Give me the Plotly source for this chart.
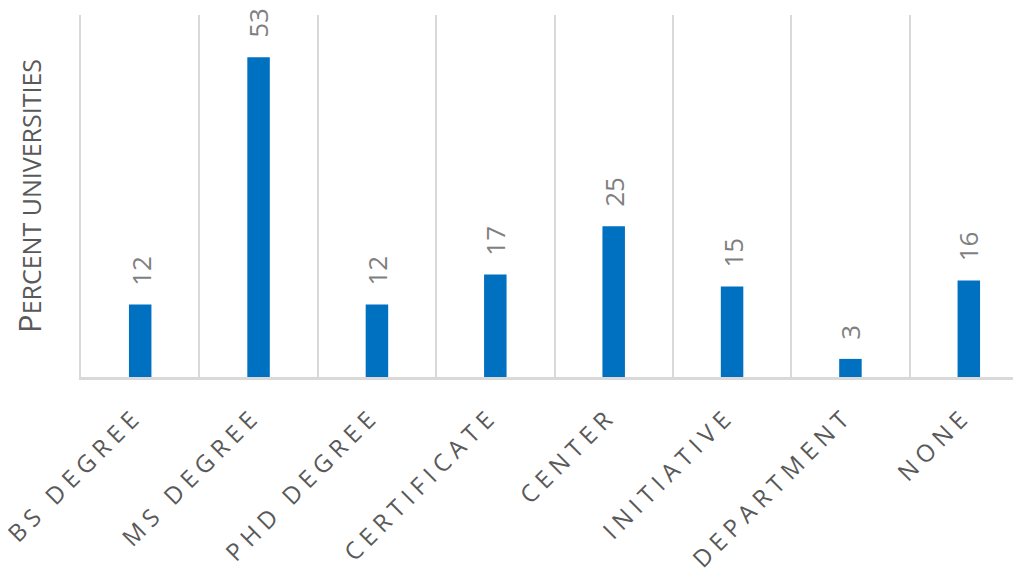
import plotly.graph_objects as go

categories = ["BS DEGREE", "MS DEGREE", "PHD DEGREE", "CERTIFICATE",
              "CENTER", "INITIATIVE", "DEPARTMENT", "NONE"]
values = [12, 53, 12, 17, 25, 15, 3, 16]
y_title_first = "P"
y_title_rest = "ERCENT UNIVERSITIES"

LS = "\u2005"   # letter spacing (1/4 em)
WS = "\u2002\u2005"   # word spacing (3/4 em)
TAIL = "\u2002"  # trailing pad to nudge labels along their baseline


def spaced(s):
    words = s.split(" ")
    return WS.join(LS.join(list(w)) for w in words) + TAIL


tick_text = [spaced(c) for c in categories]

fig = go.Figure()
fig.add_trace(go.Bar(
    x=categories, y=values,
    marker=dict(color="#0070c0", line=dict(width=0)),
    width=0.19,
    hoverinfo="x+y",
))

for c, v in zip(categories, values):
    fig.add_annotation(
        x=c, y=v, text=str(v), showarrow=False,
        textangle=-90, yanchor="bottom", xanchor="center",
        yshift=17,
        font=dict(family="Open Sans", size=26, color="#7f7f7f"),
    )

fig.update_layout(
    width=1021, height=580,
    margin=dict(l=73, r=1, t=7, b=211),
    paper_bgcolor="white", plot_bgcolor="white",
    showlegend=False,
    font=dict(family="Open Sans", color="#595959"),
    xaxis=dict(
        type="category",
        range=[-0.5, 7.5],
        tickmode="array", tickvals=categories, ticktext=tick_text,
        tickangle=-45,
        tickfont=dict(family="Open Sans", size=24, color="#595959"),
        showgrid=True, gridcolor="#d9d9d9", gridwidth=2,
        tickson="boundaries",
        ticks="", ticklabelstandoff=8,
        showline=True, linecolor="#d9d9d9", linewidth=3,
        zeroline=False,
        automargin=False,
    ),
    yaxis=dict(
        range=[0, 60],
        showgrid=False, zeroline=False, showticklabels=False,
        ticks="", showline=True, linecolor="#d9d9d9", linewidth=2,
        title=dict(
            text=(y_title_first + "<span style='font-size:25px'>"
                  + y_title_rest + "</span>"),
            font=dict(family="Open Sans", size=31, color="#595959"),
            standoff=30,
        ),
        automargin=False,
    ),
)

fig.write_html("out.html")
